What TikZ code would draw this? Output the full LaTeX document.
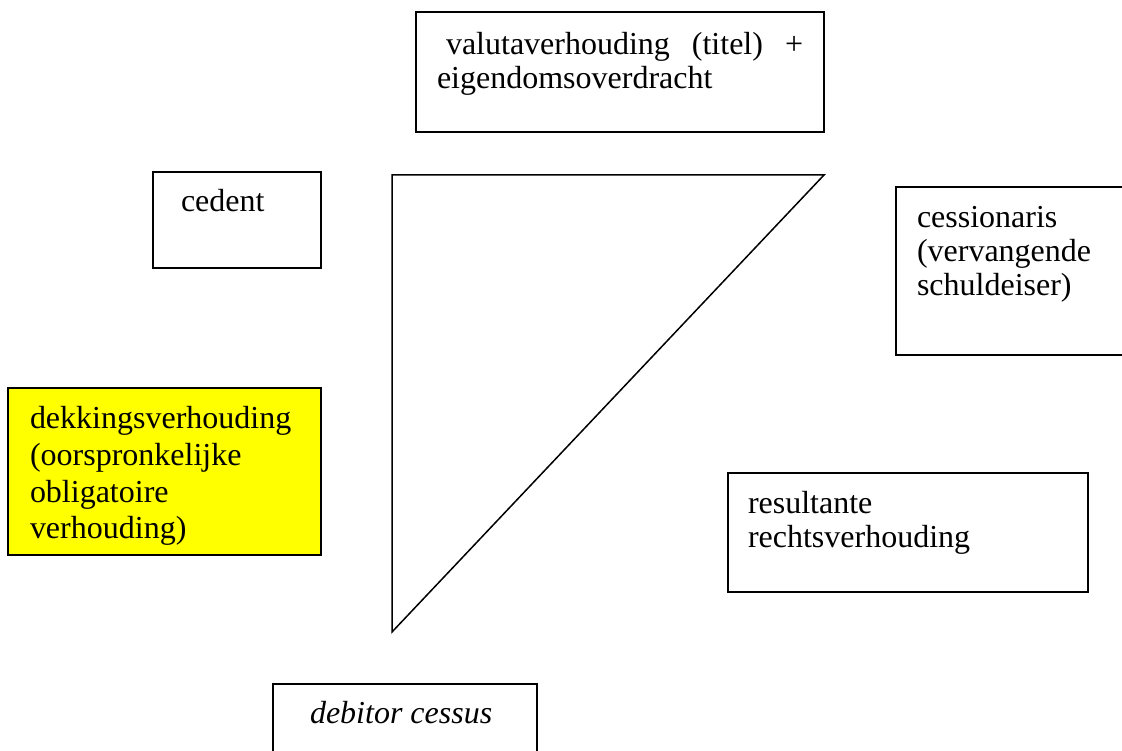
\documentclass[tikz,border=0pt]{standalone}
\usepackage{fontspec}
\setmainfont{Liberation Serif}
\definecolor{boxyellow}{RGB}{255,255,0}
\begin{document}
\begin{tikzpicture}[x=1pt,y=-1pt,
  box/.style={draw=black, line width=1.6pt, rectangle, inner sep=0pt, outer sep=0pt},
  label/.style={anchor=base west, inner sep=0pt, outer sep=0pt,
    font=\fontsize{32}{36}\selectfont}]
\useasboundingbox (0,0) rectangle (1122,751);

% boxes
\node[box, minimum width=408, minimum height=120] (titel) at (620,72) {};
\node[box, minimum width=168, minimum height=96] (cedent) at (237,220) {};
\node[box, minimum width=240, minimum height=168] (cessionaris) at (1016,271) {};
\node[box, fill=boxyellow, minimum width=313, minimum height=167] (dekking) at (164.5,471.5) {};
\node[box, minimum width=360, minimum height=119] (resultante) at (908,532.5) {};
\node[box, minimum width=264, minimum height=96] (debitor) at (405,732) {};

% triangle
\coordinate (ta) at (392,175);
\coordinate (tb) at (824,175);
\coordinate (tc) at (392,632);
\draw[line width=1.5pt, line join=miter] (ta) -- (tb) -- (tc) -- cycle;

% texts
\node[label] (t1a) at (446,55) {\makebox[357pt][s]{valutaverhouding (titel) +}};
\node[label] (t1b) at (437,89) {eigendomsoverdracht};

\node[label] (t2) at (181,212) {cedent};

\node[label] (t3a) at (917,228) {cessionaris};
\node[label] (t3b) at (917,262) {(vervangende};
\node[label] (t3c) at (917,296) {schuldeiser)};

\node[label] (t4a) at (30,428) {dekkingsverhouding};
\node[label] (t4b) at (30,465) {(oorspronkelijke};
\node[label] (t4c) at (30,502) {obligatoire};
\node[label] (t4d) at (30,538) {verhouding)};

\node[label] (t5a) at (748,513) {resultante};
\node[label] (t5b) at (748,547) {rechtsverhouding};

\node[label, font=\fontsize{32}{36}\selectfont\itshape] (t6) at (310,723) {debitor cessus};
\end{tikzpicture}
\end{document}
